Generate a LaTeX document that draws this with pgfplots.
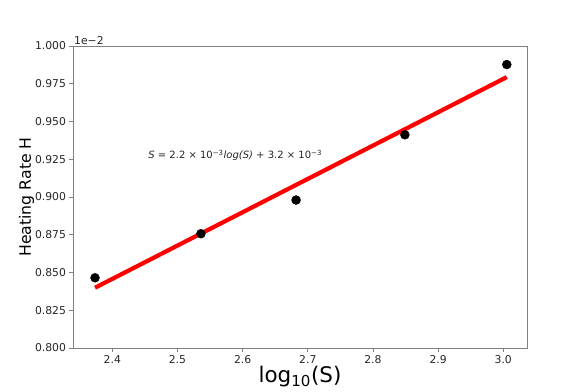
\documentclass[border=0pt]{standalone}
\usepackage{fontspec}
\setmainfont{DejaVu Sans}
\usepackage{pgfplots}
\pgfplotsset{compat=1.18}
\definecolor{axgray}{HTML}{808080}

\begin{document}
\begin{tikzpicture}
\begin{axis}[
  scale only axis,
  width=454pt, height=302pt,
  xmin=2.3397, xmax=3.0364,
  ymin=0.800, ymax=1.000,
  xtick={2.4,2.5,...,3.0},
  ytick={0.800,0.825,...,1.000},
  xticklabel style={/pgf/number format/.cd, fixed, precision=1, zerofill},
  yticklabel style={/pgf/number format/.cd, fixed, precision=3, zerofill},
  /pgf/number format/assume math mode=true,
  tick label style={font=\fontsize{10.8}{12}\selectfont, text=black!85},
  tick align=outside, tick pos=left,
  major tick length=3.5pt,
  axis line style={axgray, line width=0.8pt},
  every tick/.style={axgray, line width=0.8pt},
  xlabel={log\textsubscript{10}(S)},
  ylabel={Heating Rate H},
  xlabel style={font=\fontsize{21.5}{23}\selectfont, yshift=4pt},
  ylabel style={font=\fontsize{15.7}{17}\selectfont, yshift=-6pt},
  clip=false,
]
% fitted line
\addplot[red, line width=4.2pt, no marks] coordinates {
  (2.3735,0.8399) (3.0054,0.9794)
};
% measured points
\addplot[only marks, mark=*, mark size=4.5pt, black] coordinates {
  (2.3735,0.8465) (2.5360,0.8757) (2.6820,0.8980)
  (2.8490,0.9412) (3.0054,0.9877)
};
\node[anchor=west, font=\fontsize{10}{12}\selectfont, text=black!85] at (axis cs:2.450,0.9276)
  {\itshape S\upshape\ = 2.2 × 10\textsuperscript{−3}\itshape log(S)\upshape\ + 3.2 × 10\textsuperscript{−3}};
\node[anchor=south west, font=\fontsize{10.8}{12}\selectfont, text=black!85, inner sep=1pt] at (rel axis cs:0,1) {1e−2};
\coordinate (ll) at (rel axis cs:0,0);
\end{axis}
\pgfresetboundingbox
\path (ll) ++(-73pt,-43pt) rectangle ++(586pt,391pt);
\end{tikzpicture}
\end{document}
